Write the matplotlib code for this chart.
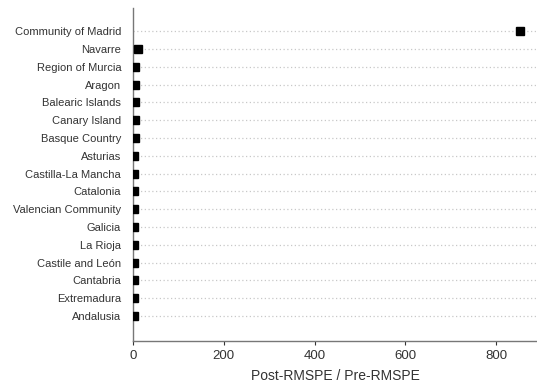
import matplotlib.pyplot as plt

# regions, bottom to top
regions = ["Andalusia", "Extremadura", "Cantabria", "Castile and León", "La Rioja",
           "Galicia", "Valencian Community", "Catalonia", "Castilla-La Mancha",
           "Asturias", "Basque Country", "Canary Island", "Balearic Islands",
           "Aragon", "Region of Murcia", "Navarre", "Community of Madrid"]
ratios = [1.5, 1.7, 1.9, 2.1, 2.2, 2.4, 2.6, 2.8, 3.0, 3.2, 3.4, 3.6, 3.8,
          4.2, 5.0, 11.0, 852.0]

plt.rcParams['font.family'] = ['Liberation Sans', 'DejaVu Sans']

fig = plt.figure(figsize=(5.37, 3.87), dpi=100)
ax = fig.add_axes([0.2477, 0.119, 0.7523, 0.86])

ypos = list(range(len(regions)))
for y in ypos:
    ax.axhline(y, color='#c8c8c8', linestyle=(0, (1, 2)), linewidth=0.9, zorder=0)
ax.plot(ratios, ypos, linestyle='none', marker='s', markersize=5.5, color='black', zorder=3)

ax.set_xlim(0, 890)
ax.set_ylim(-1.4, 17.3)
ax.set_yticks(ypos)
ax.set_yticklabels(regions, fontsize=8, color='#333333')
ax.tick_params(axis='y', length=0, pad=8.5)
ax.set_xticks([0, 200, 400, 600, 800])
ax.tick_params(axis='x', labelsize=9.5, colors='#333333', length=3, width=0.8)
ax.set_xlabel("Post-RMSPE / Pre-RMSPE", fontsize=10, color='#333333', labelpad=5)

for side in ['top', 'right']:
    ax.spines[side].set_visible(False)
for side in ['left', 'bottom']:
    ax.spines[side].set_color('#777777')
    ax.spines[side].set_linewidth(1.0)

fig.savefig("out.png", dpi=100)
